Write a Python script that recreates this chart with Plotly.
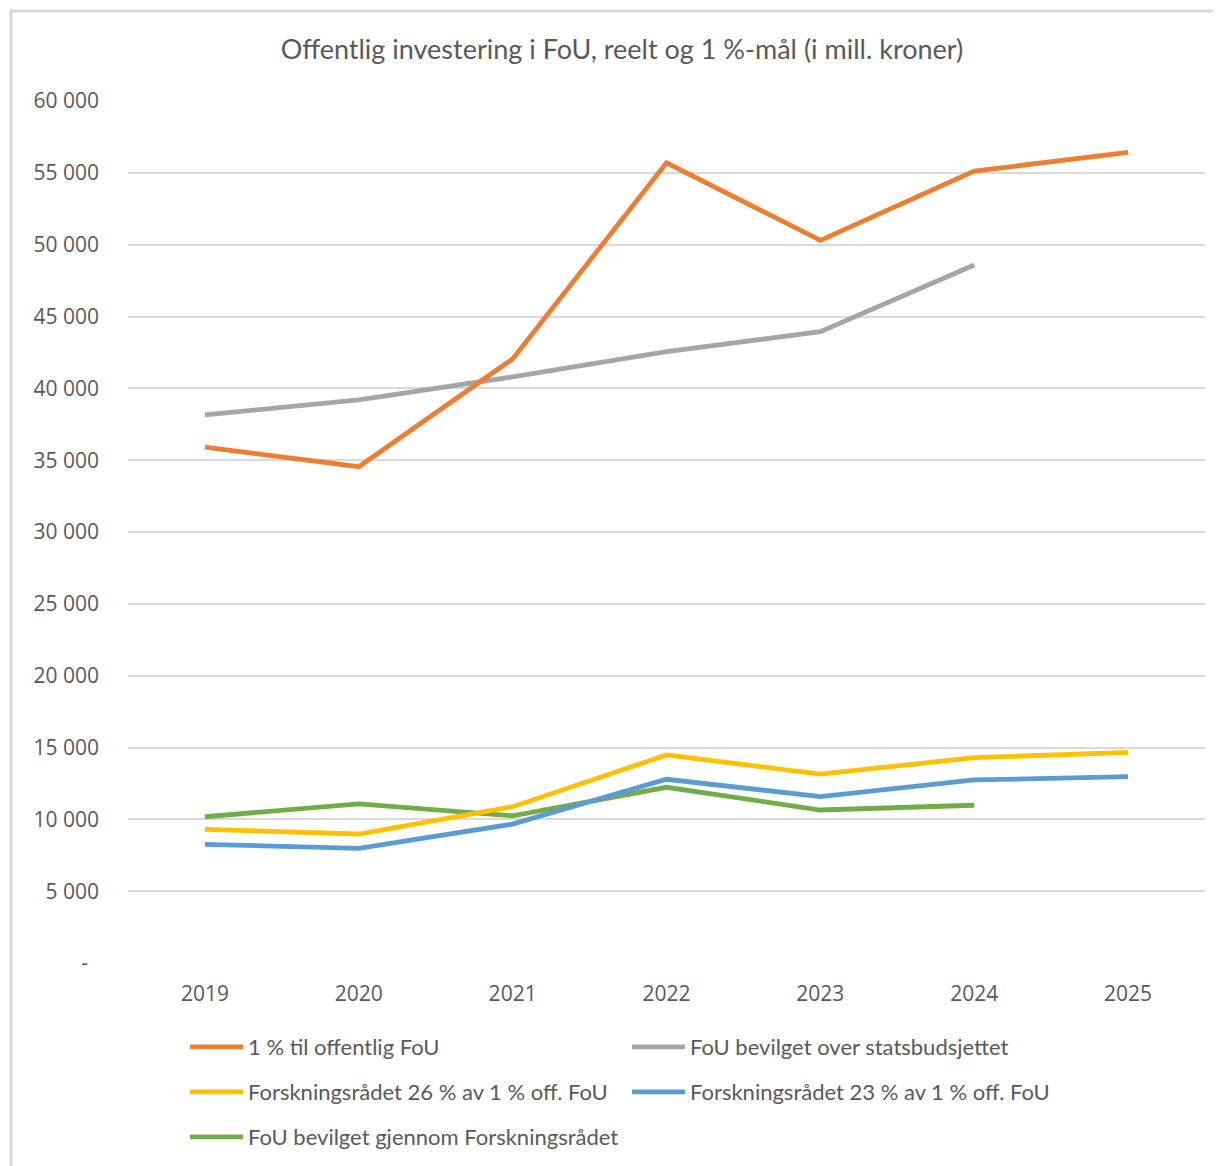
import plotly.graph_objects as go

years = ["2019", "2020", "2021", "2022", "2023", "2024", "2025"]
one_pct = [35900, 34550, 42050, 55700, 50300, 55120, 56420]
statsbudsjett = [38150, 39200, 40800, 42550, 43950, 48580]
forsk_26 = [9300, 8980, 10880, 14480, 13150, 14290, 14660]
forsk_23 = [8260, 7980, 9670, 12790, 11580, 12740, 12970]
gjennom_forsk = [10180, 11070, 10250, 12230, 10650, 10980]

names = [
    "1 % til offentlig FoU",
    "FoU bevilget over statsbudsjettet",
    "Forskningsrådet 26 % av 1 % off. FoU",
    "Forskningsrådet 23 % av 1 % off. FoU",
    "FoU bevilget gjennom Forskningsrådet",
]
colors = ["#ED7D31", "#A5A5A5", "#FFC000", "#5B9BD5", "#70AD47"]
series = [one_pct, statsbudsjett, forsk_26, forsk_23, gjennom_forsk]
legends = ["legend", "legend", "legend2", "legend2", "legend3"]

tick_vals = [0, 5000, 10000, 15000, 20000, 25000, 30000, 35000, 40000, 45000, 50000, 55000, 60000]
tick_text = ["-\u00a0\u00a0", "5 000", "10 000", "15 000", "20 000", "25 000", "30 000", "35 000",
             "40 000", "45 000", "50 000", "55 000", "60 000"]

fig = go.Figure()
order = [1, 4, 3, 2, 0]
for i in order:
    fig.add_trace(go.Scatter(
        x=years[:len(series[i])], y=series[i], name=names[i], mode="lines",
        line=dict(color=colors[i], width=4.8), legend=legends[i],
        legendrank=i,
    ))

OFF = 8  # page body margin
W, H = 1221 - OFF, 1166 - OFF
L, T = 128 - OFF, 101 - OFF
R = W - (1205 - OFF)
B = H - (963 - OFF)
pw, ph = W - L - R, H - T - B

def px(x):  # screen x -> paper
    return (x - OFF - L) / pw

def py(y):  # screen y -> paper
    return (H - B - (y - OFF)) / ph

legend_font = dict(family="Lato", size=22, color="#595959")
common = dict(orientation="h", font=legend_font, entrywidth=374, entrywidthmode="pixels",
              xanchor="left", yanchor="middle", bgcolor="rgba(0,0,0,0)", itemwidth=53,
              traceorder="normal")

tick_font = dict(family="Open Sans", size=21, color="#595959")

fig.update_layout(
    width=W, height=H,
    margin=dict(l=L, r=R, t=T, b=B, autoexpand=False),
    paper_bgcolor="white", plot_bgcolor="white",
    title=dict(text="Offentlig investering i FoU, reelt og 1 %-mål (i mill. kroner)",
               xref="container", yref="container",
               x=(622 - OFF) / W, xanchor="center", y=1 - (50 - OFF) / H, yanchor="middle",
               font=dict(family="Lato", size=27, color="#595959")),
    xaxis=dict(type="category", range=[-0.5, 6.5], showgrid=False, showline=False, ticks="",
               automargin=False, tickfont=tick_font, ticklabelstandoff=16),
    yaxis=dict(range=[0, 60000], tickvals=tick_vals, ticktext=tick_text,
               showgrid=True, gridcolor="#D9D9D9", gridwidth=2, zeroline=False,
               showline=False, ticks="", automargin=False,
               tickfont=tick_font, ticklabelstandoff=28),
    legend=dict(x=px(185), y=py(1047), **common),
    legend2=dict(x=px(185), y=py(1092), **common),
    legend3=dict(x=px(185), y=py(1137), **common),
    shapes=[dict(type="rect", xref="paper", yref="paper",
                 x0=px(11), x1=px(1260), y0=py(11), y1=py(1200),
                 line=dict(color="#D9D9D9", width=3), layer="below")],
)

fig.write_html("out.html")
